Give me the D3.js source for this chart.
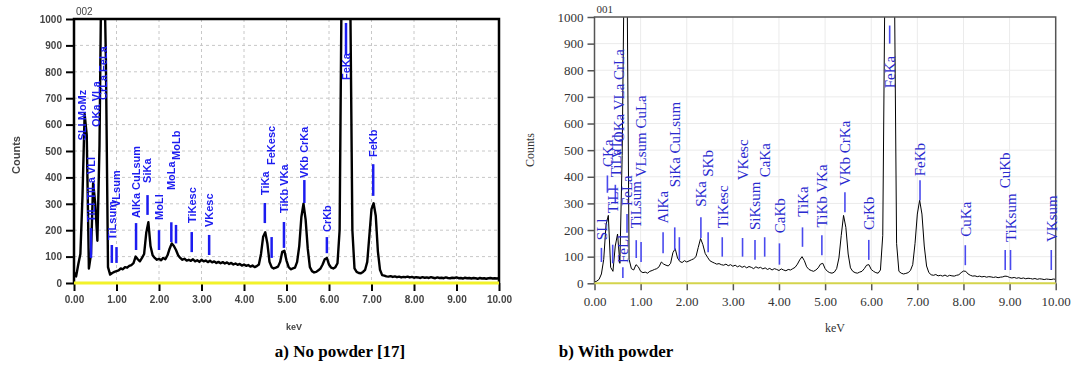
<!DOCTYPE html>
<html>
<head>
<meta charset="utf-8">
<script src="https://cdn.jsdelivr.net/npm/d3@7"></script>
<style>
  body { margin: 0; background: #fff; }
  svg { display: block; }
</style>
</head>
<body>
<script>
// EDS spectra, counts per channel, channel width 0.05 keV, 0.00 .. 10.00 keV
const channelWidth = 0.05;

// a) No powder
const countsA = [
  40, 25, 70, 110, 330, 640, 560, 55, 110, 380,
  300, 160, 520, 1300, 1300, 850, 60, 32, 38, 42,
  45, 48, 55, 52, 60, 58, 65, 68, 75, 100,
  90, 82, 95, 110, 190, 230, 140, 105, 95, 88,
  92, 86, 95, 90, 105, 130, 150, 140, 125, 105,
  95, 88, 92, 85, 88, 84, 90, 82, 86, 80,
  88, 82, 85, 79, 84, 78, 82, 76, 80, 75,
  79, 74, 78, 72, 76, 70, 74, 69, 72, 66,
  70, 65, 68, 62, 66, 60, 64, 70, 110, 175,
  192, 150, 80, 60, 55, 58, 62, 80, 118, 122,
  85, 60, 52, 55, 58, 80, 140, 250, 300, 240,
  130, 60, 45, 40, 42, 48, 55, 70, 90, 95,
  70, 58, 55, 60, 75, 200, 1200, 2300, 2500, 2200,
  1100, 200, 55, 42, 38, 37, 42, 50, 80, 180,
  280, 302, 255, 120, 50, 30, 28, 25, 24, 26,
  23, 25, 22, 24, 21, 23, 22, 24, 21, 23,
  20, 22, 21, 19, 22, 20, 21, 19, 22, 20,
  18, 21, 19, 20, 18, 21, 19, 18, 20, 19,
  21, 18, 19, 17, 20, 18, 19, 17, 19, 18,
  16, 19, 17, 18, 16, 18, 19, 17, 18, 17,
  18
];

// b) With powder
const countsB = [
  5, 8, 15, 35, 90, 220, 255, 60, 45, 140,
  185, 75, 480, 1300, 1300, 90, 55, 50, 70, 62,
  45, 40, 42, 38, 45, 48, 52, 55, 62, 80,
  72, 68, 65, 75, 115, 130, 95, 82, 78, 85,
  80, 84, 88, 92, 100, 135, 168, 145, 112, 98,
  85, 80, 76, 72, 74, 70, 68, 72, 66, 70,
  64, 68, 62, 66, 60, 64, 58, 63, 60, 55,
  62, 57, 60, 54, 58, 52, 56, 50, 55, 52,
  48, 54, 50, 47, 52, 50, 55, 60, 72, 88,
  100, 85, 62, 52, 48, 45, 50, 58, 72, 75,
  55, 45, 40, 38, 42, 55, 95, 180, 255, 210,
  110, 58, 45, 40, 38, 42, 45, 55, 68, 70,
  52, 45, 40, 38, 50, 180, 1200, 2200, 2600, 2200,
  1200, 150, 45, 38, 35, 37, 40, 48, 70, 150,
  260, 312, 260, 140, 65, 40, 32, 30, 33, 28,
  30, 27, 31, 26, 30, 28, 27, 30, 32, 40,
  46, 45, 35, 30, 27, 28, 25, 27, 24, 26,
  23, 25, 24, 22, 24, 21, 23, 24, 27, 26,
  22, 20, 22, 19, 21, 18, 20, 17, 19, 18,
  16, 18, 15, 17, 16, 14, 16, 15, 14, 16,
  15
];

// peak markers: [label, keV, line from, line to, text from] (counts)
const markersA = [
  ["SLl MoMz", 0.19, null, null, 540],
  ["TiLl TiLa VLl", 0.40, 95, 208, 231],
  ["OKa VLa", 0.52, null, null, 591],
  ["CrLa FeLa", 0.68, null, null, 693],
  ["TiLsum", 0.89, 76, 144, 163],
  ["VLsum", 1.00, 76, 136, 288],
  ["AlKa CuLsum", 1.46, 125, 227, 246],
  ["SiKa", 1.73, 258, 333, 379],
  ["MoLl", 2.00, 125, 200, 239],
  ["MoLa", 2.29, 155, 230, 352],
  ["MoLb", 2.40, 150, 220, 466],
  ["TiKesc", 2.77, 117, 193, 227],
  ["VKesc", 3.18, 106, 182, 212],
  ["TiKa", 4.49, 227, 303, 333],
  ["FeKesc", 4.65, 95, 174, 447],
  ["TiKb VKa", 4.94, 133, 231, 265],
  ["VKb CrKa", 5.42, 303, 390, 398],
  ["CrKb", 5.95, 113, 174, 193],
  ["FeKa", 6.40, 864, 985, 769],
  ["FeKb", 7.04, 330, 450, 477]
];

const markersB = [
  ["SLl", 0.15, 80, 133, 162],
  ["CKa", 0.28, 340, 405, 437],
  ["TiLl", 0.395, 75, 145, 263],
  ["TiLa", 0.452, 300, 370, 398],
  ["VLl", 0.48, null, null, 470],
  ["OKa VLa CrLa", 0.535, null, null, 530],
  ["FeLl", 0.615, 20, 60, 76],
  ["FeLa", 0.705, 190, 260, 290],
  ["TiLsum", 0.905, 95, 162, 207],
  ["VLsum CuLa", 1.01, 80, 155, 398],
  ["AlKa", 1.487, 113, 192, 225],
  ["SiKa CuLsum", 1.74, 125, 210, 361],
  ["", 1.84, 88, 173, null],
  ["SKa", 2.307, 170, 248, 287],
  ["SKb", 2.464, 117, 192, 400],
  ["TiKesc", 2.77, 100, 173, 207],
  ["VKesc", 3.21, 100, 170, 387],
  ["SiKsum", 3.48, 88, 163, 200],
  ["CaKa", 3.69, 100, 173, 398],
  ["CaKb", 4.01, 70, 150, 188],
  ["TiKa", 4.51, 137, 210, 250],
  ["TiKb VKa", 4.93, 105, 180, 210],
  ["VKb CrKa", 5.43, 267, 342, 365],
  ["CrKb", 5.947, 88, 163, 200],
  ["FeKa", 6.40, 900, 968, 732],
  ["FeKb", 7.058, 312, 387, 402],
  ["CuKa", 8.04, 68, 143, 175],
  ["CuKb", 8.905, 50, 125, 357],
  ["TiKsum", 9.02, 50, 125, 155],
  ["VKsum", 9.904, 50, 125, 155]
];

const countTicks = [0, 100, 200, 300, 400, 500, 600, 700, 800, 900, 1000];
const keVTicks = [0, 1, 2, 3, 4, 5, 6, 7, 8, 9, 10];
const captions = ["a) No powder [17]", "b) With powder"];

const svg = d3.select("body").append("svg")
  .attr("width", 1074)
  .attr("height", 365);

const defs = svg.append("defs");
defs.append("filter").attr("id", "soft")
  .append("feGaussianBlur").attr("stdDeviation", 0.45);

function drawPanel(counts, markers, o) {
  const g = svg.append("g");
  if (o.blur) g.attr("filter", "url(#soft)");

  const x = d3.scaleLinear().domain([0, 10]).range([o.left, o.right]);
  const y = d3.scaleLinear().domain([0, 1000]).range([o.bottom, o.top]);

  // grid
  g.append("g").selectAll("line")
    .data(keVTicks.slice(1, -1))
    .join("line")
    .attr("x1", d => x(d)).attr("x2", d => x(d))
    .attr("y1", o.top).attr("y2", o.bottom)
    .attr("stroke", o.grid).attr("stroke-width", 1)
    .attr("stroke-dasharray", o.gridDash);
  g.append("g").selectAll("line")
    .data(countTicks.slice(1, -1))
    .join("line")
    .attr("x1", o.left).attr("x2", o.right)
    .attr("y1", d => y(d)).attr("y2", d => y(d))
    .attr("stroke", o.grid).attr("stroke-width", 1)
    .attr("stroke-dasharray", o.gridDash);

  // axes
  const ya = g.append("g")
    .attr("transform", `translate(${o.left},0)`)
    .call(d3.axisLeft(y).tickValues(countTicks).tickSize(o.tick).tickPadding(4).tickFormat(d3.format("d")));
  const xa = g.append("g")
    .attr("transform", `translate(0,${o.bottom})`)
    .call(d3.axisBottom(x).tickValues(keVTicks).tickSize(o.tick).tickPadding(o.xPad).tickFormat(d3.format(".2f")));
  [ya, xa].forEach(a => {
    a.select(".domain").remove();
    a.selectAll(".tick line").attr("stroke", o.axis).attr("stroke-width", o.tickWidth);
    a.selectAll(".tick text")
      .attr("fill", o.tickColor)
      .style("font-family", o.font)
      .style("font-size", o.tickFont + "px")
      .style("font-weight", o.weight);
  });

  // spectrum
  const clipId = "clip" + o.id;
  defs.append("clipPath").attr("id", clipId)
    .append("rect")
    .attr("x", o.left).attr("y", o.top)
    .attr("width", o.right - o.left).attr("height", o.bottom - o.top);
  const line = d3.line()
    .x((d, i) => x(i * channelWidth))
    .y(d => y(d));
  g.append("path")
    .datum(counts)
    .attr("clip-path", `url(#${clipId})`)
    .attr("d", line)
    .attr("fill", "none")
    .attr("stroke", "#000")
    .attr("stroke-width", o.lineWidth)
    .attr("stroke-linejoin", "round");

  // frame: left, top, right; baseline in yellow
  g.append("path")
    .attr("d", `M${o.left},${o.bottom}V${o.top}H${o.right}V${o.bottom}`)
    .attr("fill", "none")
    .attr("stroke", o.axis)
    .attr("stroke-width", o.frameWidth);
  g.append("line")
    .attr("x1", o.left).attr("x2", o.right)
    .attr("y1", y(0)).attr("y2", y(0))
    .attr("stroke", o.base).attr("stroke-width", o.baseWidth);

  // peak markers
  g.append("g").selectAll("line")
    .data(markers.filter(m => m[2] != null))
    .join("line")
    .attr("x1", m => x(m[1])).attr("x2", m => x(m[1]))
    .attr("y1", m => y(m[2])).attr("y2", m => y(m[3]))
    .attr("stroke", o.markLine).attr("stroke-width", o.markWidth);
  g.append("g").selectAll("text")
    .data(markers.filter(m => m[4] != null))
    .join("text")
    .attr("transform", m => `translate(${x(m[1])},${y(m[4])}) rotate(-90)`)
    .attr("dy", "0.35em")
    .attr("fill", o.markText)
    .style("font-family", o.font)
    .style("font-size", o.markFont + "px")
    .style("font-weight", o.weight)
    .text(m => m[0]);

  // titles
  g.append("text")
    .attr("x", o.left + 2).attr("y", o.top - 4)
    .attr("fill", o.tickColor)
    .style("font-family", o.font).style("font-size", o.tagFont + "px")
    .text(o.tag);
  g.append("text")
    .attr("x", o.xLabelX).attr("y", o.xLabelY)
    .attr("text-anchor", "middle")
    .attr("fill", o.tickColor)
    .style("font-family", o.font).style("font-size", o.xLabelFont + "px")
    .style("font-weight", o.weight)
    .text("keV");
  g.append("text")
    .attr("transform", `translate(${o.yLabelX},${o.yLabelY}) rotate(-90)`)
    .attr("text-anchor", "middle")
    .attr("fill", o.tickColor)
    .style("font-family", o.font).style("font-size", o.yLabelFont + "px")
    .style("font-weight", o.weight)
    .text("Counts");
}

drawPanel(countsA, markersA, {
  id: "A", blur: true,
  left: 74, right: 499, top: 19, bottom: 283,
  font: "'Liberation Sans', Arial, sans-serif", weight: "bold",
  grid: "#c8c8c8", gridDash: "3,3",
  axis: "#000", tick: 8, tickWidth: 2, xPad: 5,
  tickColor: "#444", tickFont: 10,
  lineWidth: 2.4, frameWidth: 2.5,
  base: "#f2f22a", baseWidth: 3,
  markLine: "#1c1cf0", markWidth: 2.5, markText: "#1c1cf0", markFont: 11,
  tag: "002", tagFont: 10,
  xLabelFont: 9, yLabelFont: 11,
  xLabelX: 294, xLabelY: 330, yLabelX: 20, yLabelY: 155
});

drawPanel(countsB, markersB, {
  id: "B", blur: false,
  left: 594.5, right: 1055.7, top: 17, bottom: 283.3,
  font: "'Liberation Serif', 'Times New Roman', serif", weight: "normal",
  grid: "#ebebeb", gridDash: null,
  axis: "#555", tick: 7, tickWidth: 1.5, xPad: 6,
  tickColor: "#333", tickFont: 13,
  lineWidth: 1, frameWidth: 1.5,
  base: "#d4d44c", baseWidth: 2,
  markLine: "#4a4aee", markWidth: 1.6, markText: "#2a2acf", markFont: 15,
  tag: "001", tagFont: 11,
  xLabelFont: 12, yLabelFont: 12,
  xLabelX: 835, xLabelY: 332, yLabelX: 534, yLabelY: 150
});

// captions
svg.selectAll("text.caption")
  .data(captions)
  .join("text")
  .attr("class", "caption")
  .attr("x", (d, i) => [340, 616][i])
  .attr("y", 357)
  .attr("text-anchor", "middle")
  .style("font-family", "'Liberation Serif', 'Times New Roman', serif")
  .style("font-size", "17px")
  .style("font-weight", "bold")
  .text(d => d);
</script>
</body>
</html>
